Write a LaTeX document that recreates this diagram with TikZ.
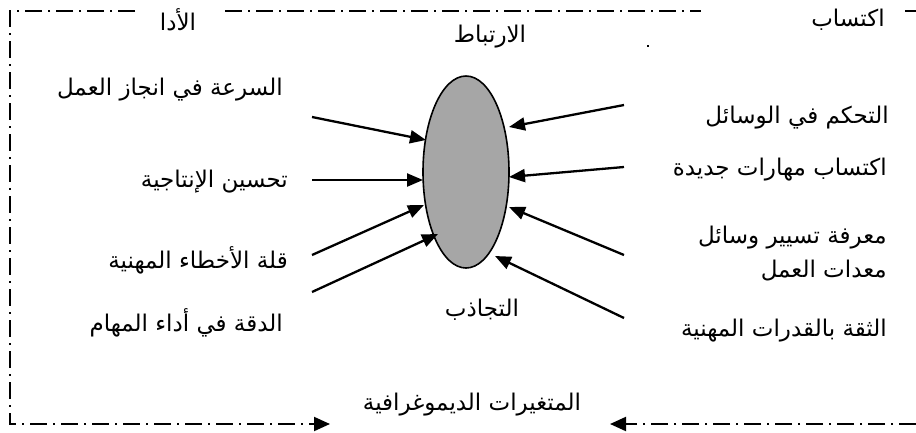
\documentclass[tikz,border=0pt]{standalone}
\usepackage{fontspec}
\usetikzlibrary{shapes.geometric,arrows.meta}
\newfontfamily\arabicfont[Script=Arabic]{DejaVu Sans}
\TeXXeTstate=1
\definecolor{ellgray}{HTML}{A6A6A6}
\tikzset{
  lbl/.style={font=\arabicfont\fontsize{23}{27}\selectfont, inner sep=0pt},
  arr/.style={line width=2.3pt, -{Triangle[length=16pt,width=13pt]}},
  framed/.style={line width=2pt, dash pattern=on 17pt off 6pt on 2pt off 6pt},
  framearr/.style={framed, -{Triangle[length=16pt,width=14pt]}},
}
\begin{document}
\begin{tikzpicture}[x=1pt,y=-1pt]
\useasboundingbox (0,0) rectangle (916,432);
% frame
\draw[framearr] (135,11) -- (10,11) -- (10,424) -- (330,424);
\draw[framed] (225,11) -- (701,11);
\draw[framed] (905,11) -- (916,11);
\draw[framearr] (916,424) -- (610,424);
% ellipse
\node[ellipse, draw, line width=1.6pt, fill=ellgray, minimum width=86pt, minimum height=192pt, inner sep=0pt] (ell) at (466,172) {};
% top labels
\node[lbl] (ada) at (178,20) {\beginR الأدا\endR};
\node[lbl] (irt) at (490,37) {\beginR الارتباط\endR};
\node[lbl] (iktisab) at (848,20) {\beginR اكتساب\endR};
\node[fill=black, inner sep=0pt, minimum size=2pt] (dot) at (648,46) {};
% left labels
\node[lbl, anchor=east] (l1) at (283,90) {\beginR السرعة في انجاز العمل\endR};
\node[lbl, anchor=east] (l2) at (288,182) {\beginR تحسين الإنتاجية\endR};
\node[lbl, anchor=east] (l3) at (288,260) {\beginR قلة الأخطاء المهنية\endR};
\node[lbl, anchor=east] (l4) at (283,323) {\beginR الدقة في أداء المهام\endR};
% right labels
\node[lbl, anchor=east] (r1) at (889,118) {\beginR التحكم في الوسائل\endR};
\node[lbl, anchor=east] (r2) at (887,170) {\beginR اكتساب مهارات جديدة\endR};
\node[lbl, anchor=east] (r3a) at (887,238) {\beginR معرفة تسيير وسائل\endR};
\node[lbl, anchor=east] (r3b) at (887,271) {\beginR معدات العمل\endR};
\node[lbl, anchor=east] (r4) at (887,331) {\beginR الثقة بالقدرات المهنية\endR};
% bottom labels
\node[lbl] (tajadhub) at (482,310) {\beginR التجاذب\endR};
\node[lbl] (demo) at (472,405) {\beginR المتغيرات الديموغرافية\endR};
% arrow endpoints
\coordinate (a1) at (312,117); \coordinate (t1) at (426,140);
\coordinate (a2) at (312,180); \coordinate (t2) at (423,180);
\coordinate (a3) at (312,255); \coordinate (t3) at (424,205);
\coordinate (a4) at (312,292); \coordinate (t4) at (438,234);
\coordinate (b1) at (624,105); \coordinate (u1) at (509,127);
\coordinate (b2) at (624,167); \coordinate (u2) at (509,177);
\coordinate (b3) at (624,255); \coordinate (u3) at (509,207);
\coordinate (b4) at (624,318); \coordinate (u4) at (495,256);
\foreach \s/\t in {a1/t1,a2/t2,a3/t3,a4/t4,b1/u1,b2/u2,b3/u3,b4/u4}
  \draw[arr] (\s) -- (\t);
\end{tikzpicture}
\end{document}
